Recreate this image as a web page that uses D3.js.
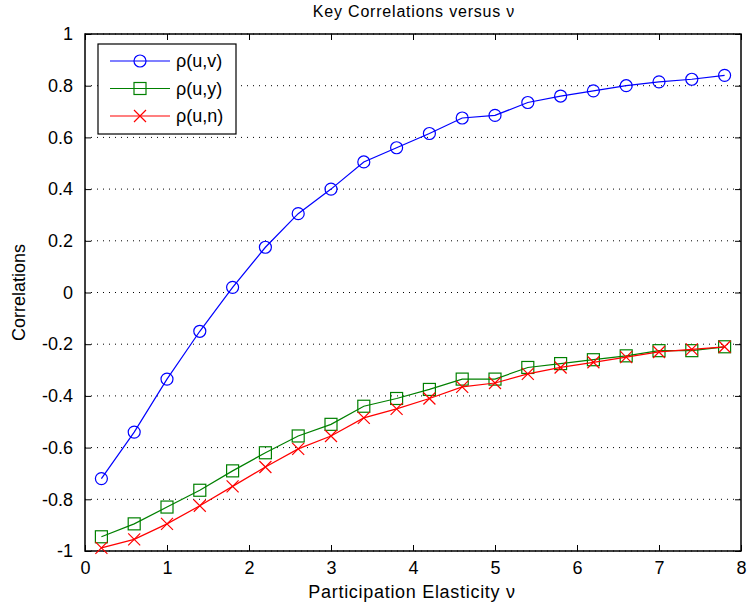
<!DOCTYPE html>
<html>
<head>
<meta charset="utf-8">
<script src="https://cdn.jsdelivr.net/npm/d3@7"></script>
<style>
  body { margin: 0; background: #fff; }
  text { font-family: "Liberation Sans", Arial, sans-serif; }
</style>
</head>
<body>
<svg id="chart" width="747" height="610"></svg>
<script>
// elasticity values on the x axis
const nu = [0.2, 0.6, 1.0, 1.4, 1.8, 2.2, 2.6, 3.0, 3.4, 3.8, 4.2, 4.6, 5.0, 5.4, 5.8, 6.2, 6.6, 7.0, 7.4, 7.8];
const rhoUV = [-0.72, -0.54, -0.335, -0.15, 0.02, 0.175, 0.305, 0.40, 0.505, 0.56, 0.615, 0.675, 0.685, 0.735, 0.76, 0.78, 0.80, 0.815, 0.825, 0.84];
const rhoUY = [-0.945, -0.895, -0.83, -0.765, -0.69, -0.62, -0.555, -0.51, -0.44, -0.41, -0.375, -0.335, -0.335, -0.29, -0.275, -0.26, -0.245, -0.225, -0.225, -0.21];
const rhoUN = [-0.988, -0.955, -0.895, -0.825, -0.75, -0.675, -0.605, -0.555, -0.485, -0.45, -0.41, -0.365, -0.35, -0.315, -0.29, -0.27, -0.25, -0.23, -0.22, -0.21];
const xTicks = [0, 1, 2, 3, 4, 5, 6, 7, 8];
const yTicks = [-1, -0.8, -0.6, -0.4, -0.2, 0, 0.2, 0.4, 0.6, 0.8, 1];

const series = [
  { name: "ρ(u,v)", values: rhoUV, color: "#0000ff", marker: "circle" },
  { name: "ρ(u,y)", values: rhoUY, color: "#008000", marker: "square" },
  { name: "ρ(u,n)", values: rhoUN, color: "#ff0000", marker: "cross" }
];

const svg = d3.select("#chart");
const m = { left: 85, right: 741, top: 34, bottom: 551 };

const x = d3.scaleLinear().domain([0, 8]).range([m.left, m.right]);
const y = d3.scaleLinear().domain([-1, 1]).range([m.bottom, m.top]);

// horizontal dotted grid
svg.append("g")
  .selectAll("line")
  .data(yTicks)
  .join("line")
  .attr("x1", m.left).attr("x2", m.right)
  .attr("y1", d => y(d)).attr("y2", d => y(d))
  .attr("stroke", "#000")
  .attr("stroke-width", 1)
  .attr("stroke-dasharray", "1,5");

// axes (ticks pointing inward), plain hyphen for negatives like the original
const fmt = d => String(d);
svg.append("g")
  .attr("transform", `translate(0,${m.bottom})`)
  .call(d3.axisBottom(x).tickValues(xTicks).tickSize(-6).tickPadding(10).tickFormat(fmt))
  .call(g => g.select(".domain").remove());
svg.append("g")
  .attr("transform", `translate(0,${m.top})`)
  .call(d3.axisTop(x).tickValues(xTicks).tickSize(-6).tickFormat(""))
  .call(g => g.select(".domain").remove());
svg.append("g")
  .attr("transform", `translate(${m.left},0)`)
  .call(d3.axisLeft(y).tickValues(yTicks).tickSize(-6).tickPadding(12).tickFormat(fmt))
  .call(g => g.select(".domain").remove());
svg.append("g")
  .attr("transform", `translate(${m.right},0)`)
  .call(d3.axisRight(y).tickValues(yTicks).tickSize(-6).tickFormat(""))
  .call(g => g.select(".domain").remove());

svg.selectAll(".tick text")
  .attr("font-size", 18)
  .attr("font-family", "Liberation Sans, Arial, sans-serif")
  .attr("fill", "#000");

svg.append("rect")
  .attr("x", m.left).attr("y", m.top)
  .attr("width", m.right - m.left).attr("height", m.bottom - m.top)
  .attr("fill", "none").attr("stroke", "#000").attr("stroke-width", 1.5);

function drawMarker(g, type, color, cx, cy) {
  if (type === "circle") {
    g.append("circle").attr("cx", cx).attr("cy", cy).attr("r", 6)
      .attr("fill", "none").attr("stroke", color).attr("stroke-width", 1.2);
  } else if (type === "square") {
    g.append("rect").attr("x", cx - 6).attr("y", cy - 6).attr("width", 12).attr("height", 12)
      .attr("fill", "none").attr("stroke", color).attr("stroke-width", 1.2);
  } else {
    g.append("path").attr("d", `M${cx - 6},${cy - 6}L${cx + 6},${cy + 6}M${cx - 6},${cy + 6}L${cx + 6},${cy - 6}`)
      .attr("fill", "none").attr("stroke", color).attr("stroke-width", 1.2);
  }
}

const line = d3.line().x((d, i) => x(nu[i])).y(d => y(d));

series.forEach(s => {
  const g = svg.append("g");
  g.append("path")
    .attr("d", line(s.values))
    .attr("fill", "none")
    .attr("stroke", s.color)
    .attr("stroke-width", 1.2);
  s.values.forEach((v, i) => drawMarker(g, s.marker, s.color, x(nu[i]), y(v)));
});

// legend
const lg = svg.append("g");
lg.append("rect")
  .attr("x", 98).attr("y", 44).attr("width", 138).attr("height", 90)
  .attr("fill", "#fff").attr("stroke", "#000").attr("stroke-width", 1.2);
series.forEach((s, i) => {
  const ly = 61 + i * 27.5;
  lg.append("line").attr("x1", 110).attr("x2", 170).attr("y1", ly).attr("y2", ly)
    .attr("stroke", s.color).attr("stroke-width", 1.2);
  drawMarker(lg, s.marker, s.color, 140, ly);
  lg.append("text").attr("x", 176).attr("y", ly + 6)
    .attr("font-size", 18).text(s.name);
});

// titles
svg.append("text")
  .attr("x", 414).attr("y", 17)
  .attr("text-anchor", "middle")
  .attr("font-size", 16)
  .attr("letter-spacing", 0.8)
  .text("Key Correlations versus  ν");
svg.append("text")
  .attr("x", 412).attr("y", 598)
  .attr("text-anchor", "middle")
  .attr("font-size", 18)
  .attr("letter-spacing", 0.7)
  .text("Participation Elasticity ν");
svg.append("text")
  .attr("transform", `translate(25,${(m.top + m.bottom) / 2}) rotate(-90)`)
  .attr("text-anchor", "middle")
  .attr("font-size", 18)
  .text("Correlations");
</script>
</body>
</html>
